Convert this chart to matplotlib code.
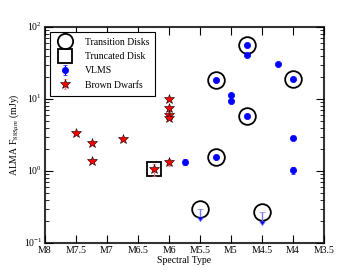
import matplotlib
matplotlib.use("Agg")
import matplotlib.pyplot as plt
from matplotlib.lines import Line2D
import numpy as np

plt.style.use('classic')
plt.rcParams['font.family'] = ['Liberation Serif', 'DejaVu Serif']
plt.rcParams['mathtext.fontset'] = 'stix'
plt.rcParams['font.size'] = 7

# Brown dwarfs
bd_spt = [7.5, 7.25, 7.25, 6.75, 6.25, 6.0, 6.0, 6.0, 6.0, 6.0]
bd_flux = [3.4, 2.47, 1.38, 2.8, 1.06, 9.9, 7.4, 6.0, 5.5, 1.32]
bd_err = [0.15, 0.12, 0.1, 0.12, 0.2, 0.3, 0.25, 0.2, 0.2, 0.15]

# VLMS detections
vl_spt = [5.75, 5.25, 5.25, 5.0, 5.0, 4.75, 4.75, 4.75, 4.25, 4.0, 4.0, 4.0]
vl_flux = [1.35, 1.55, 18.4, 11.4, 9.4, 56, 41, 5.8, 30.6, 19, 2.9, 1.02]
vl_err = [0.12, 0.1, 0.4, 0.3, 0.3, 0.8, 0.6, 0.2, 0.6, 0.4, 0.15, 0.1]

# VLMS upper limits
ul_spt = [5.5, 4.5]
ul_flux = [0.30, 0.27]
ul_err = [0.07, 0.065]

# Transition disks
td_spt = [5.5, 5.25, 5.25, 4.75, 4.75, 4.5, 4.0]
td_flux = [0.30, 1.55, 18.4, 56, 5.8, 0.27, 19]

# Truncated disk
tr_spt = [6.25]
tr_flux = [1.06]

xticks = [8, 7.5, 7, 6.5, 6, 5.5, 5, 4.5, 4, 3.5]
xlabels = ['M8', 'M7.5', 'M7', 'M6.5', 'M6', 'M5.5', 'M5', 'M4.5', 'M4', 'M3.5']

fig = plt.figure(figsize=(3.6, 2.7), dpi=100, facecolor='white')
ax = fig.add_subplot(111)

h_td, = ax.plot(td_spt, td_flux, 'o', ms=12, mfc='none', mec='black', mew=1.3, ls='none')
h_tr, = ax.plot(tr_spt, tr_flux, 's', ms=10, mfc='none', mec='black', mew=1.3, ls='none')
h_vl = ax.errorbar(vl_spt, vl_flux, yerr=vl_err, fmt='o', color='blue', mec='blue', ms=4.5,
                   ecolor='blue', elinewidth=0.8, capsize=1.5)
ax.errorbar(ul_spt, ul_flux, yerr=ul_err, uplims=True, fmt='none', ecolor='#7878ff',
            elinewidth=1.0, capsize=2)
h_bd = ax.errorbar(bd_spt, bd_flux, yerr=bd_err, fmt='*', color='red', mec='black', mew=0.4,
                   ms=7, ecolor='#ff7070', elinewidth=0.8, capsize=1.5)

ax.set_yscale('log')
ax.set_ylim(0.1, 100)
ax.set_xlim(8, 3.5)
ax.set_xticks(xticks)
ax.set_xticklabels(xlabels)
ax.set_xlabel('Spectral Type', fontsize=7, labelpad=1)
ax.set_ylabel(r'ALMA F$_{885\mu m}$ (mJy)', fontsize=7, labelpad=2)
for s in ax.spines.values():
    s.set_linewidth(1.5)
    s.set_color('#333333')
ax.tick_params(which='major', length=6, width=0.8, labelsize=7, pad=2)
ax.tick_params(which='minor', length=3, width=0.6)

leg_td = Line2D([], [], marker='o', ms=11, mfc='none', mec='black', mew=1.3, ls='none')
leg_tr = Line2D([], [], marker='s', ms=10, mfc='none', mec='black', mew=1.3, ls='none')
leg = ax.legend([leg_td, leg_tr, h_vl, h_bd], ['Transition Disks', 'Truncated Disk', 'VLMS', 'Brown Dwarfs'],
                loc='upper left', numpoints=1, fontsize=7, frameon=True, fancybox=False,
                borderpad=0.6, labelspacing=0.55, handlelength=2.0, handletextpad=1.0,
                borderaxespad=0.5)
leg.get_frame().set_linewidth(0.8)
leg.get_frame().set_edgecolor('black')

fig.subplots_adjust(left=0.125, right=0.9, bottom=0.1, top=0.9)
fig.savefig('out.png', dpi=100, facecolor='white')
